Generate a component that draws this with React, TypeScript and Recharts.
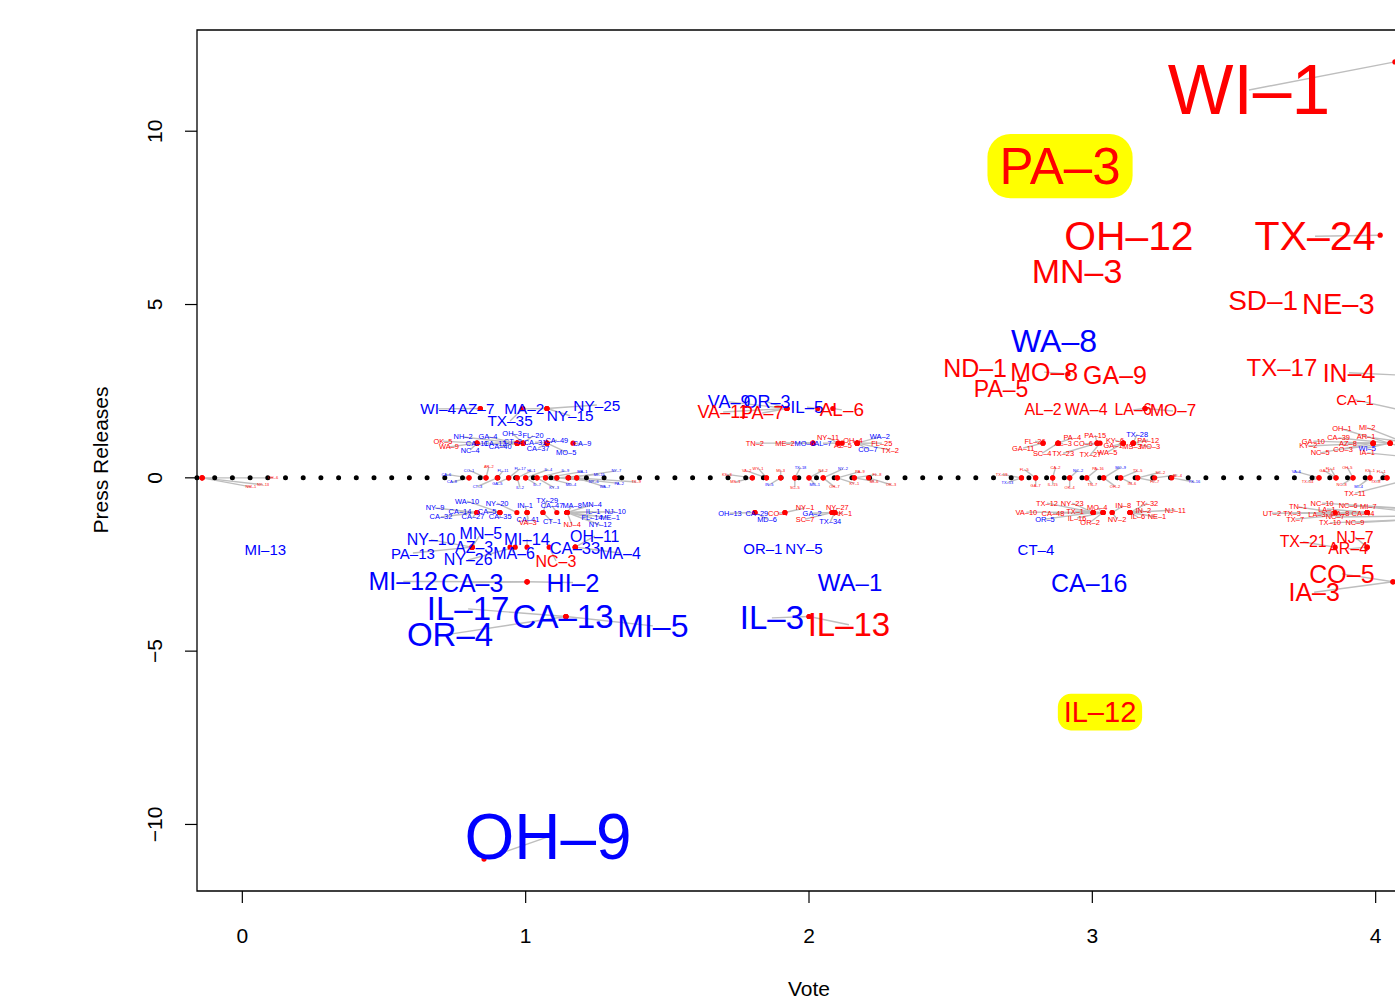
import React from 'react'
import { ScatterChart, Scatter, XAxis, YAxis, ReferenceLine, ReferenceArea, Label } from 'recharts'

// [district, party, vote, press releases, label x, label y, cex]
// vote/press null = point hidden under another mark
type Row = [string, 'R' | 'D', number | null, number | null, number, number, number]

const xTicks = [0, 1, 2, 3, 4]
const yTicks = [-10, -5, 0, 5, 10]
const highlighted = ['PA-3', 'IL-12']

const bigLabels: Row[] = [
  ['WI-1', 'R', 4.068, 12, 3.553, 11.19, 5.8],
  ['PA-3', 'R', null, null, 2.886, 8.99, 4.25],
  ['OH-12', 'R', null, null, 3.129, 6.98, 3.4],
  ['MN-3', 'R', null, null, 2.946, 5.96, 2.83],
  ['TX-24', 'R', 4.016, 7, 3.786, 6.97, 3.42],
  ['SD-1', 'R', null, null, 3.603, 5.13, 2.33],
  ['NE-3', 'R', null, null, 3.868, 5.02, 2.42],
  ['WA-8', 'D', null, null, 2.865, 3.95, 2.67],
  ['ND-1', 'R', null, null, 2.586, 3.17, 2.08],
  ['MO-8', 'R', 2.914, 3, 2.83, 3.05, 2.08],
  ['GA-9', 'R', null, null, 3.08, 2.97, 2.08],
  ['PA-5', 'R', null, null, 2.678, 2.56, 1.92],
  ['TX-17', 'R', null, null, 3.669, 3.17, 2],
  ['IN-4', 'R', 4.12, 2.95, 3.906, 3.03, 2.08],
  ['CA-1', 'R', 4.12, 1.9, 3.927, 2.25, 1.25],
  ['IL-12', 'R', null, null, 3.027, -6.76, 2.42],
  ['OH-9', 'D', 0.853, -11, 1.079, -10.36, 5.33],
]

const voteOneLabels: Row[] = [
  ['WI-4', 'D', 0.84, 2, 0.691, 1.99, 1.28],
  ['AZ-7', 'D', 0.84, 2, 0.825, 1.99, 1.28],
  ['MA-2', 'D', 1.075, 2, 0.995, 1.99, 1.28],
  ['NY-25', 'D', 1.075, 2, 1.251, 2.1, 1.28],
  ['TX-35', 'D', 0.99, 2, 0.945, 1.64, 1.28],
  ['NY-15', 'D', 1.075, 2, 1.157, 1.79, 1.28],
  ['OK-5', 'R', 0.828, 1, 0.708, 1.06, 0.62],
  ['WA-9', 'R', 0.828, 1, 0.729, 0.89, 0.62],
  ['NH-2', 'D', 0.97, 1, 0.779, 1.18, 0.62],
  ['GA-4', 'D', 0.97, 1, 0.867, 1.18, 0.62],
  ['OH-3', 'D', 0.991, 1, 0.952, 1.29, 0.62],
  ['FL-20', 'D', 0.991, 1, 1.026, 1.21, 0.62],
  ['CA-49', 'D', 1.075, 1, 1.11, 1.09, 0.62],
  ['CA-9', 'D', 1.167, 1, 1.199, 0.98, 0.62],
  ['CA-11', 'D', 0.97, 1, 0.828, 0.99, 0.62],
  ['CA-12', 'D', 0.97, 1, 0.892, 0.99, 0.62],
  ['CT-2', 'D', 0.991, 1, 0.955, 1.06, 0.62],
  ['CA-31', 'D', 1.075, 1, 1.033, 1.03, 0.62],
  ['NC-4', 'D', 0.828, 1, 0.804, 0.8, 0.62],
  ['CA-40', 'D', 0.97, 1, 0.91, 0.89, 0.62],
  ['CA-37', 'D', 1.075, 1, 1.044, 0.86, 0.62],
  ['MO-5', 'D', 1.075, 1, 1.143, 0.74, 0.62],
  ['WA-10', 'D', 0.909, -1, 0.793, -0.67, 0.62],
  ['NY-20', 'D', 0.969, -1, 0.899, -0.73, 0.62],
  ['TX-29', 'D', 1.061, -1, 1.076, -0.64, 0.62],
  ['IN-1', 'D', 1.005, -1, 0.998, -0.81, 0.62],
  ['CA-47', 'D', 1.11, -1, 1.093, -0.81, 0.62],
  ['MA-8', 'D', 1.146, -1, 1.164, -0.81, 0.62],
  ['MN-4', 'D', 1.146, -1, 1.234, -0.78, 0.62],
  ['NY-9', 'D', 0.828, -1, 0.68, -0.87, 0.62],
  ['CA-14', 'D', 0.828, -1, 0.768, -0.98, 0.62],
  ['CA-5', 'D', 0.909, -1, 0.864, -0.98, 0.62],
  ['IL-1', 'D', 1.146, -1, 1.238, -0.98, 0.62],
  ['NJ-10', 'D', 1.146, -1, 1.316, -0.98, 0.62],
  ['CA-32', 'D', 0.828, -1, 0.701, -1.13, 0.62],
  ['CA-27', 'D', 0.828, -1, 0.814, -1.13, 0.62],
  ['CA-35', 'D', 0.909, -1, 0.91, -1.13, 0.62],
  ['CA-41', 'D', 1.005, -1, 1.008, -1.19, 0.62],
  ['CT-1', 'D', 1.061, -1, 1.093, -1.27, 0.62],
  ['FL-14', 'D', 1.146, -1, 1.234, -1.15, 0.62],
  ['ME-1', 'D', 1.146, -1, 1.298, -1.15, 0.62],
  ['VA-3', 'R', 1.005, -1, 1.008, -1.3, 0.62],
  ['NJ-4', 'R', 1.146, -1, 1.164, -1.36, 0.62],
  ['NY-12', 'D', 1.146, -1, 1.263, -1.36, 0.62],
  ['MN-5', 'D', 0.811, -2, 0.842, -1.62, 1.33],
  ['MI-14', 'D', 1.005, -2, 1.005, -1.77, 1.38],
  ['OH-11', 'D', 1.175, -2, 1.244, -1.68, 1.33],
  ['NY-10', 'D', 0.811, -2, 0.666, -1.79, 1.33],
  ['PA-13', 'D', 0.811, -2, 0.602, -2.17, 1.25],
  ['AZ-3', 'D', 0.811, -2, 0.818, -2.02, 1.33],
  ['MA-6', 'D', 0.945, -2, 0.959, -2.17, 1.33],
  ['CA-33', 'D', 1.175, -2, 1.174, -2.05, 1.38],
  ['MA-4', 'D', 1.175, -2, 1.333, -2.17, 1.33],
  ['NY-26', 'D', 0.963, -2, 0.797, -2.37, 1.33],
  ['NC-3', 'R', 1.083, -2, 1.107, -2.4, 1.33],
  ['MI-13', 'D', null, null, 0.081, -2.08, 1.25],
  ['MI-12', 'D', 1.005, -3, 0.568, -2.99, 2.08],
  ['CA-3', 'D', 1.005, -3, 0.811, -3.02, 2.08],
  ['HI-2', 'D', 1.005, -3, 1.167, -3.02, 2.08],
  ['IL-17', 'D', 1.142, -4, 0.797, -3.78, 2.75],
  ['OR-4', 'D', 1.142, -4, 0.733, -4.51, 2.75],
  ['CA-13', 'D', 1.142, -4, 1.132, -4.01, 2.75],
  ['MI-5', 'D', 1.142, -4, 1.449, -4.27, 2.67],
]

const voteTwoLabels: Row[] = [
  ['VA-9', 'D', 1.922, 2, 1.718, 2.19, 1.5],
  ['OR-3', 'D', 1.922, 2, 1.852, 2.19, 1.5],
  ['IL-5', 'D', 2.031, 2, 1.993, 2.04, 1.42],
  ['AL-6', 'R', 2.084, 2, 2.116, 1.96, 1.58],
  ['VA-11', 'R', 1.922, 2, 1.697, 1.9, 1.5],
  ['PA-7', 'R', 1.922, 2, 1.835, 1.87, 1.5],
  ['TN-2', 'R', 2.014, 1, 1.809, 1, 0.62],
  ['ME-2', 'R', 2.014, 1, 1.915, 1, 0.62],
  ['MO-6', 'D', 2.014, 1, 1.985, 1, 0.62],
  ['AL-7', 'D', 2.103, 1, 2.049, 1, 0.62],
  ['NY-11', 'R', 2.103, 1, 2.067, 1.15, 0.62],
  ['OH-4', 'R', 2.17, 1, 2.155, 1.09, 0.62],
  ['WA-2', 'D', 2.17, 1, 2.25, 1.18, 0.62],
  ['FL-25', 'R', 2.17, 1, 2.257, 1, 0.62],
  ['AZ-5', 'R', 2.117, 1, 2.12, 0.92, 0.62],
  ['CO-7', 'D', 2.17, 1, 2.208, 0.83, 0.62],
  ['TX-2', 'R', 2.17, 1, 2.286, 0.8, 0.62],
  ['OH-13', 'D', 1.809, -1, 1.721, -1.02, 0.62],
  ['CA-29', 'D', 1.809, -1, 1.816, -1.02, 0.62],
  ['CO-4', 'R', 1.915, -1, 1.89, -1.02, 0.62],
  ['NY-1', 'R', 1.915, -1, 1.986, -0.87, 0.62],
  ['GA-2', 'D', 2.081, -1, 2.011, -1.02, 0.62],
  ['NY-27', 'R', 2.091, -1, 2.1, -0.87, 0.62],
  ['AK-1', 'R', 2.091, -1, 2.12, -1.02, 0.62],
  ['MD-6', 'D', 1.809, -1, 1.852, -1.19, 0.62],
  ['SC-7', 'R', 2.081, -1, 1.986, -1.19, 0.62],
  ['TX-34', 'D', 2.091, -1, 2.075, -1.27, 0.62],
  ['OR-1', 'D', null, null, 1.837, -2.05, 1.25],
  ['NY-5', 'D', null, null, 1.982, -2.05, 1.25],
  ['WA-1', 'D', null, null, 2.145, -3.03, 2],
  ['IL-3', 'D', 2, -4, 1.869, -4.04, 2.75],
  ['IL-13', 'R', 2, -4, 2.141, -4.24, 2.75],
]

const voteThreeLabels: Row[] = [
  ['AL-2', 'R', null, null, 2.826, 1.96, 1.33],
  ['WA-4', 'R', null, null, 2.978, 1.96, 1.33],
  ['LA-6', 'R', 3.186, 2, 3.144, 1.96, 1.33],
  ['MO-7', 'R', 3.186, 2, 3.285, 1.93, 1.42],
  ['FL-26', 'R', 2.826, 1, 2.798, 1.06, 0.62],
  ['GA-11', 'R', 2.826, 1, 2.756, 0.86, 0.62],
  ['AL-3', 'R', 2.879, 1, 2.897, 0.98, 0.62],
  ['PA-4', 'R', 2.879, 1, 2.929, 1.15, 0.62],
  ['CO-6', 'R', 3.017, 1, 2.968, 0.98, 0.62],
  ['PA-15', 'R', 3.017, 1, 3.01, 1.23, 0.62],
  ['KY-6', 'R', 3.109, 1, 3.08, 1.09, 0.62],
  ['GA-1', 'R', 3.109, 1, 3.073, 0.92, 0.62],
  ['TX-28', 'D', 3.144, 1, 3.158, 1.26, 0.62],
  ['PA-12', 'R', 3.144, 1, 3.197, 1.09, 0.62],
  ['MS-3', 'R', 3.144, 1, 3.14, 0.89, 0.62],
  ['MO-3', 'R', 3.144, 1, 3.204, 0.89, 0.62],
  ['SC-4', 'R', 2.879, 1, 2.823, 0.71, 0.62],
  ['TX-23', 'R', 3.017, 1, 2.897, 0.71, 0.62],
  ['TX-27', 'R', 3.027, 1, 2.993, 0.66, 0.62],
  ['WA-5', 'R', 3.109, 1, 3.053, 0.74, 0.62],
  ['TX-12', 'R', 3.003, -1, 2.84, -0.73, 0.62],
  ['NY-23', 'R', 3.003, -1, 2.929, -0.73, 0.62],
  ['VA-10', 'R', 3.003, -1, 2.767, -0.99, 0.62],
  ['CA-48', 'R', 3.003, -1, 2.861, -1.02, 0.62],
  ['TX-1', 'R', 3.038, -1, 2.939, -0.96, 0.62],
  ['MO-4', 'R', 3.038, -1, 3.017, -0.87, 0.62],
  ['IN-8', 'R', 3.07, -1, 3.109, -0.81, 0.62],
  ['TX-32', 'R', 3.133, -1, 3.194, -0.73, 0.62],
  ['IN-2', 'R', 3.133, -1, 3.18, -0.93, 0.62],
  ['NJ-11', 'R', 3.133, -1, 3.293, -0.93, 0.62],
  ['OR-5', 'D', 3.003, -1, 2.833, -1.19, 0.62],
  ['IL-16', 'R', 3.038, -1, 2.946, -1.16, 0.62],
  ['OR-2', 'R', 3.038, -1, 2.992, -1.28, 0.62],
  ['NV-2', 'R', 3.07, -1, 3.087, -1.19, 0.62],
  ['IL-6', 'R', 3.133, -1, 3.161, -1.13, 0.62],
  ['NE-1', 'R', 3.133, -1, 3.228, -1.13, 0.62],
  ['CT-4', 'D', null, null, 2.801, -2.06, 1.25],
  ['CA-16', 'D', null, null, 2.989, -3.03, 2.08],
]

const voteFourLabels: Row[] = [
  ['OH-1', 'R', 4.13, 0.8, 3.881, 1.41, 0.62],
  ['MI-2', 'R', 4.14, 0.9, 3.97, 1.44, 0.62],
  ['GA-10', 'R', 3.991, 1, 3.78, 1.06, 0.62],
  ['CA-39', 'R', 4.051, 1, 3.869, 1.15, 0.62],
  ['AR-1', 'R', 4.13, 1, 3.966, 1.18, 0.62],
  ['KY-2', 'R', 3.991, 1, 3.762, 0.92, 0.62],
  ['AZ-8', 'R', 3.991, 1, 3.902, 1, 0.62],
  ['WI-5', 'D', 4.051, 1, 3.97, 0.86, 0.62],
  ['NC-5', 'R', 3.991, 1, 3.804, 0.72, 0.62],
  ['CO-3', 'R', 4.051, 1, 3.885, 0.83, 0.62],
  ['IA-1', 'R', 4.12, 0.6, 3.97, 0.72, 0.62],
  ['TX-11', 'R', 4.14, 0, 3.927, -0.44, 0.62],
  ['TN-1', 'R', 3.857, -1, 3.726, -0.84, 0.62],
  ['NC-10', 'R', 4.14, -0.9, 3.811, -0.73, 0.62],
  ['NC-6', 'R', 4.14, -0.9, 3.903, -0.81, 0.62],
  ['MI-7', 'R', 4.14, -1, 3.974, -0.84, 0.62],
  ['UT-2', 'R', 3.97, -1, 3.634, -1.02, 0.62],
  ['TX-3', 'R', 3.97, -1, 3.705, -1.02, 0.62],
  ['LA-1', 'R', 3.97, -1, 3.828, -0.9, 0.62],
  ['LA-3', 'R', 3.97, -1, 3.793, -1.07, 0.62],
  ['GA-8', 'R', 3.97, -1, 3.874, -1.02, 0.62],
  ['CA-44', 'R', 3.97, -1, 3.955, -1.02, 0.62],
  ['NC-7', 'R', 4.14, -1.1, 3.857, -1.13, 0.62],
  ['TX-7', 'R', 3.97, -1, 3.716, -1.19, 0.62],
  ['TX-10', 'R', 4.14, -1.2, 3.839, -1.3, 0.62],
  ['NC-9', 'R', 4.14, -1.2, 3.927, -1.3, 0.62],
  ['TX-21', 'R', 3.857, -2, 3.744, -1.85, 1.33],
  ['NJ-7', 'R', 3.97, -2, 3.927, -1.71, 1.33],
  ['AR-4', 'R', 3.97, -2, 3.903, -2.05, 1.33],
  ['CO-5', 'R', 4.061, -3, 3.881, -2.77, 2.08],
  ['IA-3', 'R', 4.061, -3, 3.783, -3.3, 2.08],
]

// districts with zero releases, tiny labels packed around y = 0
const zeroBandLabels: Row[] = [
  ['OH-6', 'R', -0.142, 0, 0.108, 0, 0.33],
  ['NY-13', 'R', -0.142, 0, 0.073, -0.2, 0.33],
  ['NM-1', 'R', -0.142, 0, 0.03, -0.26, 0.33],
  ['CA-6', 'D', 0.8, 0, 0.72, 0.1, 0.33],
  ['CA-8', 'D', 0.8, 0, 0.74, -0.12, 0.33],
  ['AR-2', 'R', 0.86, 0, 0.87, 0.32, 0.33],
  ['CO-1', 'D', 0.86, 0, 0.8, 0.22, 0.33],
  ['CT-3', 'D', 0.9, 0, 0.83, -0.25, 0.33],
  ['FL-11', 'D', 0.9, 0, 0.92, 0.2, 0.33],
  ['FL-17', 'D', 0.94, 0, 0.98, 0.26, 0.33],
  ['GA-5', 'D', 0.94, 0, 0.9, -0.15, 0.33],
  ['HI-1', 'D', 0.97, 0, 1.02, 0.2, 0.33],
  ['IL-2', 'D', 0.97, 0, 0.98, -0.28, 0.33],
  ['IL-4', 'D', 1.0, 0, 1.08, 0.24, 0.33],
  ['IL-7', 'D', 1.0, 0, 1.04, -0.2, 0.33],
  ['IL-9', 'D', 1.04, 0, 1.14, 0.2, 0.33],
  ['KY-3', 'D', 1.04, 0, 1.1, -0.28, 0.33],
  ['MA-1', 'D', 1.07, 0, 1.2, 0.18, 0.33],
  ['MD-4', 'D', 1.07, 0, 1.16, -0.18, 0.33],
  ['MI-15', 'D', 1.11, 0, 1.26, 0.1, 0.33],
  ['NY-6', 'D', 1.11, 0, 1.24, -0.1, 0.33],
  ['NY-7', 'D', 1.15, 0, 1.32, 0.2, 0.33],
  ['PA-2', 'D', 1.15, 0, 1.33, -0.16, 0.33],
  ['TX-9', 'R', 1.18, 0, 1.39, -0.12, 0.33],
  ['WA-7', 'D', 1.18, 0, 1.28, -0.26, 0.33],
  ['KS-3', 'R', 1.8, 0, 1.71, 0.1, 0.33],
  ['MS-1', 'R', 1.8, 0, 1.74, -0.12, 0.33],
  ['WY-1', 'R', 1.85, 0, 1.82, 0.28, 0.33],
  ['VA-2', 'R', 1.85, 0, 1.78, 0.2, 0.33],
  ['MI-3', 'R', 1.9, 0, 1.9, 0.22, 0.33],
  ['IN-5', 'D', 1.9, 0, 1.86, -0.2, 0.33],
  ['TX-18', 'D', 1.95, 0, 1.97, 0.3, 0.33],
  ['SC-5', 'R', 1.95, 0, 1.95, -0.28, 0.33],
  ['NJ-2', 'R', 2.0, 0, 2.05, 0.22, 0.33],
  ['MN-1', 'D', 2.0, 0, 2.02, -0.18, 0.33],
  ['NY-2', 'D', 2.05, 0, 2.12, 0.26, 0.33],
  ['OH-7', 'R', 2.05, 0, 2.09, -0.26, 0.33],
  ['PA-9', 'R', 2.1, 0, 2.18, 0.18, 0.33],
  ['KY-1', 'R', 2.1, 0, 2.16, -0.16, 0.33],
  ['FL-8', 'R', 2.16, 0, 2.24, 0.1, 0.33],
  ['MI-6', 'R', 2.16, 0, 2.23, -0.1, 0.33],
  ['OK-3', 'R', 2.21, 0, 2.29, -0.2, 0.33],
  ['TX-19', 'R', 2.75, 0, 2.68, 0.1, 0.33],
  ['TX-13', 'D', 2.75, 0, 2.7, -0.14, 0.33],
  ['FL-5', 'R', 2.8, 0, 2.76, 0.24, 0.33],
  ['GA-7', 'R', 2.8, 0, 2.8, -0.22, 0.33],
  ['CA-2', 'R', 2.86, 0, 2.87, 0.3, 0.33],
  ['IL-15', 'R', 2.86, 0, 2.86, -0.2, 0.33],
  ['NC-2', 'D', 2.92, 0, 2.95, 0.22, 0.33],
  ['OK-4', 'R', 2.92, 0, 2.92, -0.28, 0.33],
  ['PA-16', 'R', 2.98, 0, 3.02, 0.26, 0.33],
  ['TN-7', 'R', 2.98, 0, 3.0, -0.18, 0.33],
  ['MO-9', 'D', 3.04, 0, 3.1, 0.3, 0.33],
  ['OH-2', 'R', 3.04, 0, 3.08, -0.24, 0.33],
  ['TX-5', 'R', 3.1, 0, 3.16, 0.2, 0.33],
  ['IN-6', 'R', 3.1, 0, 3.14, -0.16, 0.33],
  ['SC-2', 'R', 3.16, 0, 3.24, 0.16, 0.33],
  ['FL-7', 'R', 3.16, 0, 3.22, -0.1, 0.33],
  ['AL-4', 'R', 3.22, 0, 3.3, 0.08, 0.33],
  ['TX-16', 'D', 3.28, 0, 3.36, -0.12, 0.33],
  ['VA-6', 'D', 3.8, 0, 3.72, 0.18, 0.33],
  ['TX-14', 'R', 3.8, 0, 3.76, -0.1, 0.33],
  ['FL-4', 'R', 3.86, 0, 3.84, 0.28, 0.33],
  ['GA-3', 'R', 3.86, 0, 3.82, 0.2, 0.33],
  ['OH-5', 'R', 3.92, 0, 3.9, 0.3, 0.33],
  ['NC-8', 'R', 3.92, 0, 3.88, -0.2, 0.33],
  ['KS-1', 'R', 3.98, 0, 3.98, 0.22, 0.33],
  ['MI-4', 'D', 3.98, 0, 3.94, -0.24, 0.33],
  ['FL-1', 'R', 4.04, 0, 4.02, 0.18, 0.33],
  ['TX-8', 'R', 4.04, 0, 4.0, -0.1, 0.33],
]

const rows: Row[] = [
  ...zeroBandLabels,
  ...voteOneLabels,
  ...voteTwoLabels,
  ...voteThreeLabels,
  ...voteFourLabels,
  ...bigLabels,
]

const labels = rows.map(([id, party, , , lx, ly, cex]) => ({
  id, party, x: lx, y: ly, cex, hl: highlighted.includes(id),
}))
const points = rows.filter((r) => r[2] !== null).map((r) => ({ x: r[2], y: r[3] }))
const segments = rows.filter((r) => r[2] !== null && (r[2] !== r[4] || r[3] !== r[5]))

const FONT = '"Liberation Sans", Arial, Helvetica, sans-serif'
const charW: Record<string, number> = {
  A: 0.667, C: 0.722, D: 0.722, E: 0.667, F: 0.611, G: 0.778, H: 0.722, I: 0.278, K: 0.667,
  L: 0.556, M: 0.833, N: 0.722, O: 0.778, P: 0.667, R: 0.722, S: 0.667, T: 0.611, U: 0.722,
  V: 0.667, W: 0.944, X: 0.667, Y: 0.667, Z: 0.611,
}
const textEm = (s: string) => s.split('').reduce((a, c) => a + (charW[c] ?? 0.556), 0)

const Dot = (p: any) => <circle cx={p.cx} cy={p.cy} r={2.6} fill="#ff0000" />

const Tag = (p: any) => {
  const d = p.payload ?? p
  const fs = d.cex * 12
  const w = textEm(d.id) * fs
  return (
    <g>
      {d.hl && (
        <rect x={p.cx - w / 2 - fs * 0.2} y={p.cy - fs * 0.63} width={w + fs * 0.4} height={fs * 1.26}
          rx={fs * 0.45} fill="#ffff00" />
      )}
      <text x={p.cx} y={p.cy} textAnchor="middle" dominantBaseline="central" fontSize={fs}
        fontFamily={FONT} fill={d.party === 'R' ? '#ff0000' : '#0000ff'}>
        {d.id.replace('-', '–')}
      </text>
    </g>
  )
}

const fmt = (v: number) => String(v).replace('-', '−')

const XTick = (p: any) => (
  <text x={p.x} y={935} textAnchor="middle" dominantBaseline="central" fontSize={21} fontFamily={FONT}>
    {fmt(p.payload.value)}
  </text>
)
const YTick = (p: any) => (
  <text x={155} y={p.y} transform={`rotate(-90, 155, ${p.y})`} textAnchor="middle"
    dominantBaseline="central" fontSize={21} fontFamily={FONT}>
    {fmt(p.payload.value)}
  </text>
)

export default function App() {
  return (
    <div style={{ position: 'fixed', left: 0, top: 0, width: 1395, height: 998, overflow: 'hidden', background: '#fff' }}>
      <ScatterChart width={1460} height={998} margin={{ top: 30, right: 39, bottom: 47, left: 137 }}>
        <XAxis type="number" dataKey="x" domain={[-0.16, 4.16]} ticks={xTicks} allowDataOverflow
          height={60} axisLine={false} tickSize={12} tickLine={{ stroke: '#000', strokeWidth: 1.2 }} tick={XTick}>
          <Label content={() => (
            <text x={809} y={988} textAnchor="middle" dominantBaseline="central" fontSize={21} fontFamily={FONT}>Vote</text>
          )} />
        </XAxis>
        <YAxis type="number" dataKey="y" domain={[-11.92, 12.92]} ticks={yTicks} allowDataOverflow
          width={60} axisLine={false} tickSize={12} tickLine={{ stroke: '#000', strokeWidth: 1.2 }} tick={YTick}>
          <Label content={() => (
            <text x={100} y={460} transform="rotate(-90, 100, 460)" textAnchor="middle" dominantBaseline="central"
              fontSize={21} fontFamily={FONT}>Press Releases</text>
          )} />
        </YAxis>
        {segments.map(([id, , x, y, lx, ly], i) => (
          <ReferenceLine key={`s-${id}-${i}`} segment={[{ x: lx, y: ly }, { x: x as number, y: y as number }]}
            stroke="#bebebe" strokeWidth={1.4} ifOverflow="visible" />
        ))}
        <Scatter data={points} shape={Dot} isAnimationActive={false} />
        <ReferenceLine y={0} stroke="#000" strokeWidth={5} strokeDasharray="0 17.7" strokeLinecap="round" />
        <Scatter data={labels} shape={Tag} isAnimationActive={false} />
        <ReferenceArea x1={-0.16} x2={4.16} y1={-11.92} y2={12.92} fill="none" stroke="#000" strokeWidth={1.3}
          ifOverflow="visible" />
      </ScatterChart>
    </div>
  )
}
